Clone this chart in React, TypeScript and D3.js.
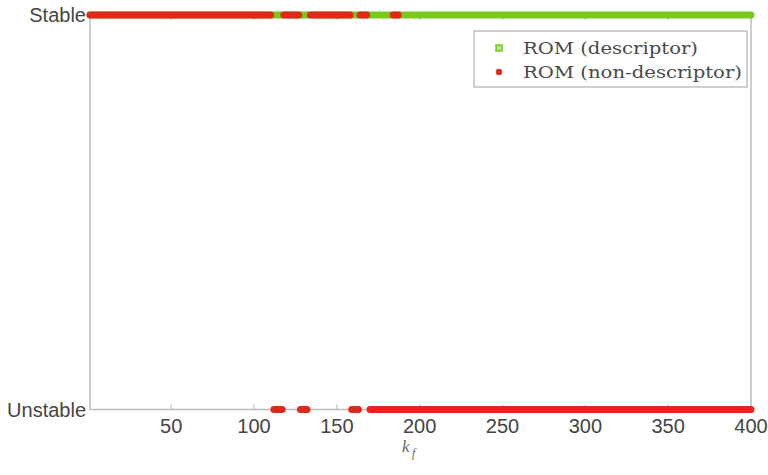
import React from "react";
import * as d3 from "d3";

// k_f domain and ticks
const kDomain: [number, number] = [1, 400];
const xTicks = [50, 100, 150, 200, 250, 300, 350, 400];
const yCategories = ["Unstable", "Stable"];

// Descriptor ROM: stable over whole range (k ranges)
const descriptorStable: [number, number][] = [[1, 400]];
// Non-descriptor ROM: ranges where it is stable / unstable
const nonDescStable: [number, number][] = [
  [1, 110],
  [118, 127],
  [134, 158],
  [164, 168],
  [184, 187],
];
const nonDescUnstable: [number, number][] = [
  [112, 117],
  [128, 132],
  [159, 163],
  [170, 400],
];

const legendLabels = ["ROM (descriptor)", "ROM (non-descriptor)"];

const GREEN = "#78c81e";
const RED = "#de2a1c";

export default function App() {
  const W = 768, H = 475;
  const left = 90, right = 751, top = 15, bottom = 409.5;
  const x = d3.scaleLinear().domain(kDomain).range([left, right]);
  const y = d3.scalePoint<string>().domain(yCategories).range([bottom, top]);
  const band = 7;
  const axisCol = "#bdbdbd";
  const textCol = "#444";

  const seg = (r: [number, number], cat: string, color: string, key: string) => (
    <line
      key={key}
      x1={x(r[0])}
      x2={x(r[1])}
      y1={y(cat)}
      y2={y(cat)}
      stroke={color}
      strokeWidth={band}
      strokeLinecap="round"
    />
  );

  return (
    <svg width={W} height={H} style={{ position: "absolute", left: 0, top: 0, background: "#fff" }}>
      {/* frame */}
      <rect x={left} y={top} width={right - left} height={bottom - top} fill="none" stroke={axisCol} strokeWidth={1.5} />
      {/* ticks */}
      {xTicks.map((t) => (
        <g key={t}>
          <line x1={x(t)} x2={x(t)} y1={bottom} y2={bottom - 5} stroke={axisCol} strokeWidth={1.2} />
          <line x1={x(t)} x2={x(t)} y1={top} y2={top + 5} stroke={axisCol} strokeWidth={1.2} />
          <text
            x={x(t)}
            y={433}
            textAnchor="middle"
            fontFamily="Liberation Sans, Arial, sans-serif"
            fontSize={20}
            fill={textCol}
          >
            {t}
          </text>
        </g>
      ))}
      {/* y category labels */}
      {yCategories.map((c) => (
        <text
          key={c}
          x={86}
          y={(y(c) as number) + 7}
          textAnchor="end"
          fontFamily="Liberation Sans, Arial, sans-serif"
          fontSize={20}
          fill={textCol}
        >
          {c}
        </text>
      ))}
      {/* data */}
      {descriptorStable.map((r, i) => seg(r, "Stable", GREEN, "g" + i))}
      {nonDescStable.map((r, i) => seg(r, "Stable", RED, "rs" + i))}
      {nonDescUnstable.map((r, i) => seg(r, "Unstable", RED, "ru" + i))}
      {/* x label */}
      <text x={402} y={452} fontFamily="Liberation Serif, Times New Roman, serif" fontStyle="italic" fontSize={17} fill="#6a6a6a">
        k
      </text>
      <text x={412} y={457} fontFamily="Liberation Serif, Times New Roman, serif" fontStyle="italic" fontSize={12} fill="#6a6a6a">
        f
      </text>
      {/* legend */}
      <rect x={474} y={31} width={273} height={56} fill="#fff" stroke="#b0b0b0" strokeWidth={1.2} />
      <rect x={496} y={45} width={6} height={6} fill="#b8e58a" stroke={GREEN} strokeWidth={1.5} />
      <circle cx={499} cy={72} r={3.2} fill={RED} />
      {legendLabels.map((l, i) => (
        <text
          key={l}
          x={523}
          y={54 + i * 24}
          fontFamily="DejaVu Serif, serif"
          fontSize={17}
          fill="#4a4a4a"
          textLength={i === 0 ? 175 : 219}
          lengthAdjust="spacingAndGlyphs"
        >
          {l}
        </text>
      ))}
    </svg>
  );
}
